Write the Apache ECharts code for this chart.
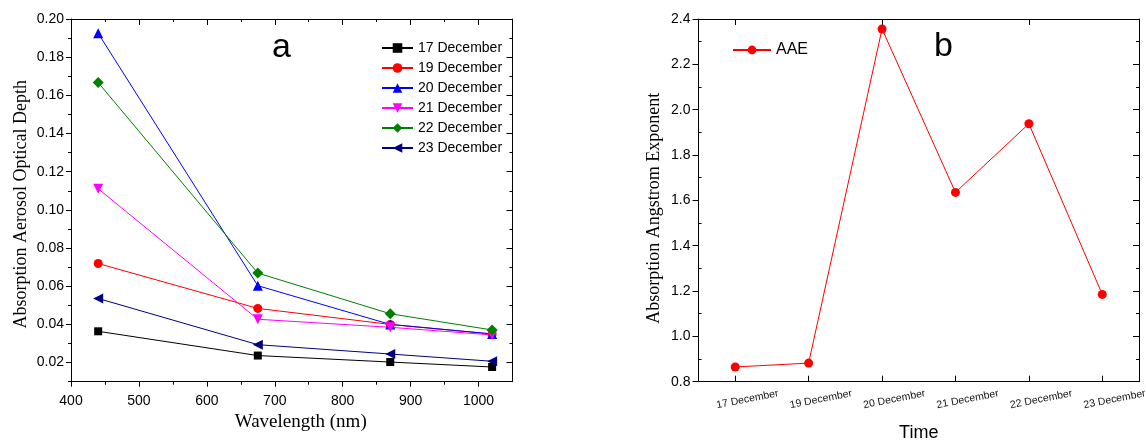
<!DOCTYPE html>
<html>
<head>
<meta charset="utf-8">
<title>Absorption AOD and AAE</title>
<script src="https://cdn.jsdelivr.net/npm/echarts@6.0.0/dist/echarts.min.js"></script>
<style>
  html, body { margin: 0; padding: 0; background: #ffffff; }
  #chart { width: 1146px; height: 441px; }
</style>
</head>
<body>
<div id="chart"></div>
<script>
// Panel a: absorption aerosol optical depth against wavelength, one line per day
const wavelengths = [440, 675, 870, 1020];
const dec17 = [0.0364, 0.0237, 0.0203, 0.0177];
const dec19 = [0.0719, 0.0484, 0.0400, 0.0350];
const dec20 = [0.1925, 0.0603, 0.0400, 0.0350];
const dec21 = [0.1111, 0.0427, 0.0385, 0.0345];
const dec22 = [0.1667, 0.0669, 0.0456, 0.0371];
const dec23 = [0.0536, 0.0294, 0.0245, 0.0207];

// Panel b: absorption Angstrom exponent per day
const days = ['17 December', '19 December', '20 December', '21 December', '22 December', '23 December'];
const aae = [0.865, 0.882, 2.356, 1.635, 1.938, 1.185];

// Tick positions
const wlMajorTicks = [400, 500, 600, 700, 800, 900, 1000];
const wlMinorTicks = [450, 550, 650, 750, 850, 950];
const aodMajorTicks = [0.02, 0.04, 0.06, 0.08, 0.10, 0.12, 0.14, 0.16, 0.18, 0.20];
const aodMinorTicks = [0.01, 0.03, 0.05, 0.07, 0.09, 0.11, 0.13, 0.15, 0.17, 0.19];
const aaeMinorTicks = [0.9, 1.1, 1.3, 1.5, 1.7, 1.9, 2.1, 2.3];

const SANS = 'Liberation Sans, Arial, sans-serif';
const SERIF = 'Liberation Serif, Times New Roman, serif';
const INK = '#000000';

const daySeries = [
  { name: '17 December', values: dec17, color: '#000000', symbol: 'rect', size: 8, rotate: 0 },
  { name: '19 December', values: dec19, color: '#ff0000', symbol: 'circle', size: 9, rotate: 0 },
  { name: '20 December', values: dec20, color: '#0000ff', symbol: 'triangle', size: 10, rotate: 0 },
  { name: '21 December', values: dec21, color: '#ff00ff', symbol: 'triangle', size: 10, rotate: 180 },
  { name: '22 December', values: dec22, color: '#008000', symbol: 'diamond', size: 11, rotate: 0 },
  { name: '23 December', values: dec23, color: '#000080', symbol: 'triangle', size: 10, rotate: 90 }
];

const lineAxis = { show: true, lineStyle: { color: INK, width: 1 } };
const noLine = { show: false };

function tickOnly(values, len, inside) {
  return { show: true, customValues: values, length: len, inside: inside, lineStyle: { color: INK, width: 1 } };
}

const chart = echarts.init(document.getElementById('chart'), null, { renderer: 'canvas' });

const option = {
  backgroundColor: '#ffffff',
  animation: false,
  grid: [
    { left: 71, top: 19, width: 441.5, height: 362.7, containLabel: false, outerBoundsMode: 'none' },
    { left: 698.5, top: 19, width: 440.5, height: 362.7, containLabel: false, outerBoundsMode: 'none' }
  ],
  xAxis: [
    // panel a bottom: line, labels, major ticks
    {
      type: 'value', gridIndex: 0, position: 'bottom', min: 400, max: 1050,
      axisLine: lineAxis, splitLine: { show: false },
      axisTick: tickOnly(wlMajorTicks, 5, false),
      axisLabel: {
        customValues: wlMajorTicks, color: INK, fontFamily: SANS, fontSize: 14, margin: 12,
        formatter: v => String(v)
      },
      name: 'Wavelength (nm)', nameLocation: 'middle', nameGap: 30,
      nameTextStyle: { color: INK, fontFamily: SERIF, fontSize: 19, padding: [0, 0, 0, 18] }
    },
    // panel a bottom minor ticks
    {
      type: 'value', gridIndex: 0, position: 'bottom', min: 400, max: 1050,
      axisLine: noLine, splitLine: { show: false },
      axisTick: tickOnly(wlMinorTicks, 3, false), axisLabel: { show: false }
    },
    // panel a top frame
    {
      type: 'value', gridIndex: 0, position: 'top', min: 400, max: 1050,
      axisLine: lineAxis, splitLine: { show: false },
      axisTick: tickOnly(wlMajorTicks, 6, true), axisLabel: { show: false }
    },
    {
      type: 'value', gridIndex: 0, position: 'top', min: 400, max: 1050,
      axisLine: noLine, splitLine: { show: false },
      axisTick: tickOnly(wlMinorTicks, 3, true), axisLabel: { show: false }
    },
    // panel b bottom: days
    {
      type: 'category', gridIndex: 1, position: 'bottom', data: days, boundaryGap: true,
      axisLine: lineAxis,
      axisTick: { show: true, alignWithLabel: true, inside: true, length: 6, lineStyle: { color: INK, width: 1 } },
      axisLabel: {
        interval: 0, rotate: 11, align: 'center', verticalAlign: 'middle',
        padding: [0, 0, 0, 25], margin: 20,
        color: '#111111', fontFamily: SANS, fontSize: 10.5
      },
      name: 'Time', nameLocation: 'middle', nameGap: 42,
      nameTextStyle: { color: INK, fontFamily: SANS, fontSize: 18 }
    },
    // panel b top frame
    {
      type: 'category', gridIndex: 1, position: 'top', data: days, boundaryGap: true,
      axisLine: lineAxis,
      axisTick: { show: true, alignWithLabel: true, inside: true, length: 6, lineStyle: { color: INK, width: 1 } },
      axisLabel: { show: false }
    }
  ],
  yAxis: [
    // panel a left: line, labels, major ticks
    {
      type: 'value', gridIndex: 0, position: 'left', min: 0.01, max: 0.2,
      axisLine: lineAxis, splitLine: { show: false },
      axisTick: tickOnly(aodMajorTicks, 5, false),
      axisLabel: {
        customValues: aodMajorTicks, color: INK, fontFamily: SANS, fontSize: 14, margin: 7,
        formatter: v => v.toFixed(2)
      },
      name: 'Absorption Aerosol Optical Depth', nameLocation: 'middle', nameGap: 41,
      nameTextStyle: { color: INK, fontFamily: SERIF, fontSize: 18, padding: [0, 8, 0, 0] }
    },
    {
      type: 'value', gridIndex: 0, position: 'left', min: 0.01, max: 0.2,
      axisLine: noLine, splitLine: { show: false },
      axisTick: tickOnly(aodMinorTicks, 3, false), axisLabel: { show: false }
    },
    // panel a right frame
    {
      type: 'value', gridIndex: 0, position: 'right', min: 0.01, max: 0.2,
      axisLine: lineAxis, splitLine: { show: false },
      axisTick: tickOnly(aodMajorTicks, 6, true), axisLabel: { show: false }
    },
    {
      type: 'value', gridIndex: 0, position: 'right', min: 0.01, max: 0.2,
      axisLine: noLine, splitLine: { show: false },
      axisTick: tickOnly(aodMinorTicks, 3, true), axisLabel: { show: false }
    },
    // panel b left: line, labels, major ticks
    {
      type: 'value', gridIndex: 1, position: 'left', min: 0.8, max: 2.4, interval: 0.2,
      axisLine: lineAxis, splitLine: { show: false },
      axisTick: { show: true, inside: false, length: 6, lineStyle: { color: INK, width: 1 } },
      axisLabel: { color: INK, fontFamily: SANS, fontSize: 14, margin: 8, formatter: v => v.toFixed(1) },
      name: 'Absorption Angstrom Exponent', nameLocation: 'middle', nameGap: 35,
      nameTextStyle: { color: INK, fontFamily: SERIF, fontSize: 18, padding: [0, 16, 0, 0] }
    },
    {
      type: 'value', gridIndex: 1, position: 'left', min: 0.8, max: 2.4,
      axisLine: noLine, splitLine: { show: false },
      axisTick: tickOnly(aaeMinorTicks, 3, true), axisLabel: { show: false }
    },
    // panel b right frame
    {
      type: 'value', gridIndex: 1, position: 'right', min: 0.8, max: 2.4, interval: 0.2,
      axisLine: lineAxis, splitLine: { show: false },
      axisTick: { show: true, inside: true, length: 6, lineStyle: { color: INK, width: 1 } },
      axisLabel: { show: false }
    },
    {
      type: 'value', gridIndex: 1, position: 'right', min: 0.8, max: 2.4,
      axisLine: noLine, splitLine: { show: false },
      axisTick: tickOnly(aaeMinorTicks, 3, true), axisLabel: { show: false }
    }
  ],
  legend: [
    {
      data: daySeries.map(s => s.name),
      orient: 'vertical', left: 376, top: 36,
      itemWidth: 31, itemHeight: 12, itemGap: 6,
      textStyle: { color: INK, fontFamily: SANS, fontSize: 14 }
    },
    {
      data: ['AAE'],
      orient: 'vertical', left: 727, top: 37,
      itemWidth: 38, itemHeight: 11,
      textStyle: { color: INK, fontFamily: SANS, fontSize: 16 }
    }
  ],
  graphic: [
    { type: 'text', left: 272, top: 31, style: { text: 'a', fill: INK, font: '34px ' + SANS } },
    { type: 'text', left: 934, top: 30, style: { text: 'b', fill: INK, font: '34px ' + SANS } }
  ],
  series: daySeries.map(s => ({
    name: s.name,
    type: 'line',
    xAxisIndex: 0, yAxisIndex: 0,
    data: wavelengths.map((w, i) => [w, s.values[i]]),
    symbol: s.symbol, symbolSize: s.size, symbolRotate: s.rotate,
    lineStyle: { color: s.color, width: 1 },
    itemStyle: { color: s.color },
    emphasis: { disabled: true }
  })).concat([{
    name: 'AAE',
    type: 'line',
    xAxisIndex: 4, yAxisIndex: 4,
    data: aae,
    symbol: 'circle', symbolSize: 9,
    lineStyle: { color: '#ff0000', width: 1 },
    itemStyle: { color: '#ff0000' },
    emphasis: { disabled: true }
  }])
};

chart.setOption(option);
</script>
</body>
</html>
